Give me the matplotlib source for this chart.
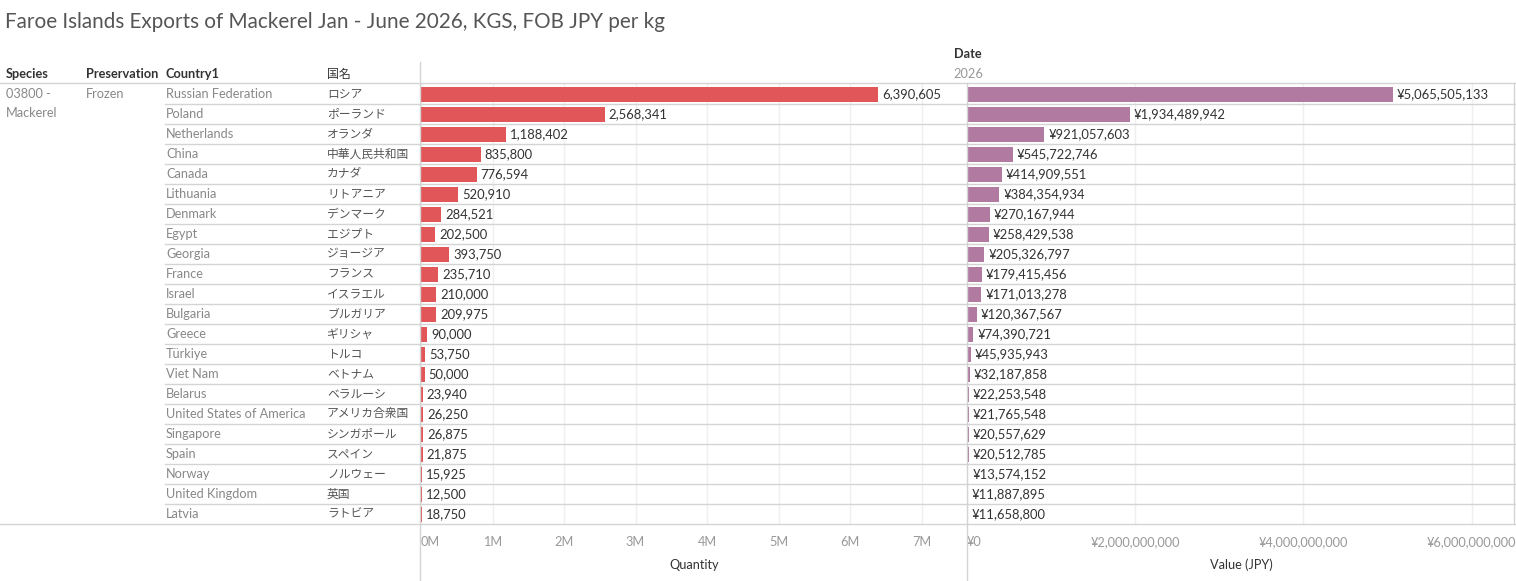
import matplotlib
matplotlib.use("Agg")
import matplotlib.pyplot as plt
from matplotlib.lines import Line2D

plt.rcParams['font.family'] = ['Lato', 'Noto Sans CJK JP', 'DejaVu Sans']

countries = ["Russian Federation", "Poland", "Netherlands", "China", "Canada", "Lithuania",
             "Denmark", "Egypt", "Georgia", "France", "Israel", "Bulgaria", "Greece",
             "Türkiye", "Viet Nam", "Belarus", "United States of America", "Singapore",
             "Spain", "Norway", "United Kingdom", "Latvia"]
names_jp = ["ロシア", "ポーランド", "オランダ", "中華人民共和国", "カナダ", "リトアニア",
            "デンマーク", "エジプト", "ジョージア", "フランス", "イスラエル", "ブルガリア", "ギリシャ",
            "トルコ", "ベトナム", "ベラルーシ", "アメリカ合衆国", "シンガポール",
            "スペイン", "ノルウェー", "英国", "ラトビア"]
quantity = [6390605, 2568341, 1188402, 835800, 776594, 520910, 284521, 202500, 393750,
            235710, 210000, 209975, 90000, 53750, 50000, 23940, 26250, 26875, 21875,
            15925, 12500, 18750]
value_jpy = [5065505133, 1934489942, 921057603, 545722746, 414909551, 384354934,
             270167944, 258429538, 205326797, 179415456, 171013278, 120367567,
             74390721, 45935943, 32187858, 22253548, 21765548, 20557629, 20512785,
             13574152, 11887895, 11658800]
q_ticks = [0, 1e6, 2e6, 3e6, 4e6, 5e6, 6e6, 7e6]
v_ticks = [0, 2e9, 4e9, 6e9]

W, H = 1516, 581
fig = plt.figure(figsize=(W / 100, H / 100), dpi=100)


def fx(x):
    return x / W


def fy(y):
    return 1 - y / H


def hline(y, x0, x1, c="#d4d4d4", lw=1.0):
    fig.add_artist(Line2D([fx(x0), fx(x1)], [fy(y), fy(y)], color=c, lw=lw,
                          transform=fig.transFigure))


def vline(x, y0, y1, c="#d4d4d4", lw=1.0):
    fig.add_artist(Line2D([fx(x), fx(x)], [fy(y0), fy(y1)], color=c, lw=lw,
                          transform=fig.transFigure))


def txt(x, y, s, **kw):
    kw.setdefault("va", "center")
    kw.setdefault("fontsize", 9.2)
    fig.text(fx(x), fy(y), s, **kw)


top, row_h = 84, 20
n = len(countries)
bottom = top + n * row_h
pane_l, pane_m, pane_r = 421, 967, 1516

# title
txt(5, 22, "Faroe Islands Exports of Mackerel Jan - June 2026, KGS, FOB JPY per kg",
    fontsize=14.9, color="#555555")

# headers
hdr = dict(color="#333333", fontweight="bold", fontsize=9.2)
txt(6, 74, "Species", **hdr)
txt(86, 74, "Preservation", **hdr)
txt(166, 74, "Country1", **hdr)
txt(327, 74, "国名", color="#333333", fontsize=8.6)
txt(pane_m + 1, 54, "Date", ha="center", **hdr)
txt(pane_m + 1, 74, "2026", ha="center", color="#999999")

txt(6, 94, "03800 -", color="#888888")
txt(6, 113, "Mackerel", color="#888888")
txt(86, 94, "Frozen", color="#888888")

for i, (c, j) in enumerate(zip(countries, names_jp)):
    yc = top + row_h * i + row_h / 2
    txt(166, yc, c, color="#888888")
    txt(327, yc, j, color="#555555", fontsize=8.5)

# bar panes
ax1 = fig.add_axes([fx(pane_l), fy(bottom), fx(pane_m - pane_l), (bottom - top) / H])
ax2 = fig.add_axes([fx(pane_m), fy(bottom), fx(pane_r - pane_m), (bottom - top) / H])
rows = list(range(n))

for ax, vals, col, lim, ticks, fmt in [
        (ax1, quantity, "#E15759", (pane_m - pane_l) / 71.5 * 1e6, q_ticks,
         lambda v: f"{v:,.0f}"),
        (ax2, value_jpy, "#B07AA1", (pane_r - pane_m) / 84.1 * 1e9, v_ticks,
         lambda v: f"¥{v:,.0f}")]:
    ax.barh(rows, vals, height=0.75, color=col, zorder=2)
    for r, v in zip(rows, vals):
        ax.annotate(fmt(v), (v, r), xytext=(4, 0), textcoords="offset pixels",
                    va="center", ha="left", fontsize=9.4, color="#333333", zorder=3)
    ax.set_xlim(0, lim)
    ax.set_ylim(n - 0.5, -0.5)
    ax.set_yticks([])
    ax.set_xticks(ticks)
    ax.grid(axis="x", color="#efefef", lw=1, zorder=0)
    ax.tick_params(axis="x", length=0, pad=9, labelsize=9.2, labelcolor="#999999")
    for s in ax.spines.values():
        s.set_visible(False)
    ax.patch.set_alpha(0)

ax1.set_xticklabels([f"{t / 1e6:.0f}M" for t in q_ticks])
ax2.set_xticklabels([f"¥{t:,.0f}" for t in v_ticks])
labs = ax1.get_xticklabels()
labs[0].set_ha("left")
labs = ax2.get_xticklabels()
labs[0].set_ha("left")

txt((pane_l + pane_m) / 2, 565, "Quantity", ha="center", color="#333333")
txt((pane_m + pane_r) / 2, 565, "Value (JPY)", ha="center", color="#333333")

# table lines
hline(83, 0, W)
for i in range(1, n):
    hline(top + row_h * i, 165, W)
hline(bottom, 0, W)
vline(420, 62, H)
vline(pane_m, 83, H)
vline(W - 2, 83, bottom)

fig.savefig("out.png", dpi=100)
